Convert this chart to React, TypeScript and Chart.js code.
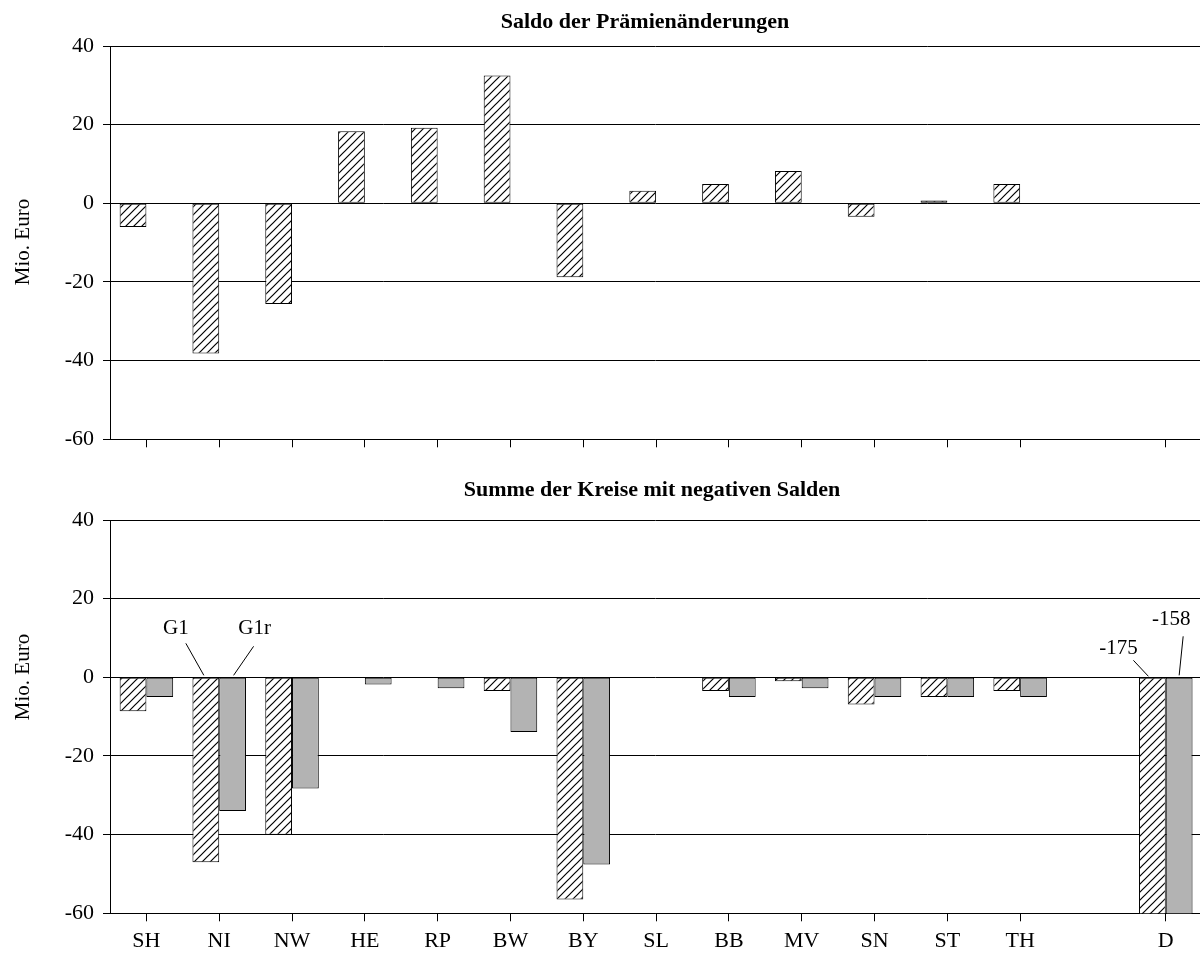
import React, { useEffect, useRef } from 'react';
import { Chart, registerables } from 'chart.js';

Chart.register(...registerables);

// ---------- data ----------
const categories = ['SH', 'NI', 'NW', 'HE', 'RP', 'BW', 'BY', 'SL', 'BB', 'MV', 'SN', 'ST', 'TH', '', 'D'];
const yTickValues = [40, 20, 0, -20, -40, -60];

const topTitle = 'Saldo der Prämienänderungen';
const bottomTitle = 'Summe der Kreise mit negativen Salden';
const yAxisTitle = 'Mio. Euro';
const seriesNames = ['G1', 'G1r'];

// Saldo der Prämienänderungen (Mio. Euro)
const saldoG1: (number | null)[] = [-6, -38.2, -25.6, 18.3, 19.2, 32.5, -18.8, 3.2, 4.9, 8.2, -3.4, 0.7, 4.9, null, null];
// Summe der Kreise mit negativen Salden (Mio. Euro)
const negG1: (number | null)[] = [-8.6, -47, -40, null, null, -3.5, -56.5, null, -3.5, -1, -6.9, -5, -3.5, null, -175];
const negG1r: (number | null)[] = [-5, -34, -28.3, -1.8, -2.8, -13.9, -47.6, null, -5, -2.8, -5, -5, -5, null, -158];

// ---------- helpers ----------
const FONT_FAMILY = '"Liberation Serif", "Times New Roman", Times, serif';
const GRAY = '#b3b3b3';

function makeHatch(ctx: CanvasRenderingContext2D): CanvasPattern {
  const t = document.createElement('canvas');
  t.width = 8;
  t.height = 8;
  const g = t.getContext('2d')!;
  g.fillStyle = '#ffffff';
  g.fillRect(0, 0, 8, 8);
  g.strokeStyle = '#000000';
  g.lineWidth = 1.2;
  g.beginPath();
  g.moveTo(0, 8);
  g.lineTo(8, 0);
  g.moveTo(-4, 4);
  g.lineTo(4, -4);
  g.moveTo(4, 12);
  g.lineTo(12, 4);
  g.stroke();
  return ctx.createPattern(t, 'repeat')!;
}

const toPoints = (arr: (number | null)[]) => arr.map((v, i) => ({ x: i, y: v }));

function textPlugin(title: string, titleX: number, titleY: number, axisTitleY: number) {
  return {
    id: 'customTexts',
    afterDraw(chart: any) {
      const ctx = chart.ctx as CanvasRenderingContext2D;
      ctx.save();
      ctx.fillStyle = '#000';
      ctx.textAlign = 'center';
      ctx.textBaseline = 'middle';
      ctx.font = `bold 22px ${FONT_FAMILY}`;
      ctx.fillText(title, titleX, titleY);
      ctx.font = `21px ${FONT_FAMILY}`;
      ctx.translate(23, axisTitleY);
      ctx.rotate(-Math.PI / 2);
      ctx.fillText(yAxisTitle, 0, 0);
      ctx.restore();
    },
  };
}

const annotationPlugin = {
  id: 'barAnnotations',
  afterDraw(chart: any) {
    const ctx = chart.ctx as CanvasRenderingContext2D;
    const m0 = chart.getDatasetMeta(0).data;
    const m1 = chart.getDatasetMeta(1).data;
    const zeroY = chart.scales.y.getPixelForValue(0);
    const items = [
      { el: m0[1], text: seriesNames[0], tx: -30, ty: -49, x1: -20, y1: -34, x2: -2, y2: -2 },
      { el: m1[1], text: seriesNames[1], tx: 22, ty: -49, x1: 21, y1: -31, x2: 1, y2: -2 },
      { el: m0[14], text: String(negG1[14]), tx: -34, ty: -29, x1: -19, y1: -17, x2: -4, y2: -1 },
      { el: m1[14], text: String(negG1r[14]), tx: -8, ty: -58, x1: 4, y1: -41, x2: 0, y2: -2 },
    ];
    ctx.save();
    ctx.fillStyle = '#000';
    ctx.strokeStyle = '#000';
    ctx.lineWidth = 1;
    ctx.font = `21px ${FONT_FAMILY}`;
    ctx.textAlign = 'center';
    ctx.textBaseline = 'middle';
    for (const it of items) {
      if (!it.el) continue;
      const bx = it.el.x;
      ctx.beginPath();
      ctx.moveTo(bx + it.x1, zeroY + it.y1);
      ctx.lineTo(bx + it.x2, zeroY + it.y2);
      ctx.stroke();
      ctx.fillText(it.text, bx + it.tx, zeroY + it.ty);
    }
    ctx.restore();
  },
};

function buildOptions(showLabels: boolean, padTop: number, xAxisHeight: number): any {
  const font = { family: FONT_FAMILY, size: 22 };
  return {
    responsive: false,
    animation: false,
    layout: { padding: { top: padTop, left: 0, right: 0, bottom: 0 } },
    plugins: { legend: { display: false }, tooltip: { enabled: false }, title: { display: false } },
    datasets: {
      bar: {
        categoryPercentage: 0.735,
        barPercentage: 1,
        borderWidth: 1,
        borderColor: '#000',
        borderSkipped: false,
      },
    },
    scales: {
      x: {
        type: 'linear',
        min: -0.5,
        max: 14.47,
        bounds: 'data',
        offset: false,
        afterBuildTicks: (s: any) => {
          s.ticks = categories
            .map((c, i) => ({ value: i, label: c }))
            .filter((t) => t.label !== '')
            .map((t) => ({ value: t.value }));
        },
        afterFit: (s: any) => {
          s.height = xAxisHeight;
          s.paddingLeft = 0;
          s.paddingRight = 0;
        },
        grid: { offset: false, drawOnChartArea: false, drawTicks: true, tickLength: 8, color: '#000', lineWidth: 1 },
        border: { display: true, color: '#000', width: 1 },
        ticks: {
          display: showLabels,
          autoSkip: false,
          maxRotation: 0,
          padding: 7,
          color: '#000',
          font,
          callback: (v: number) => categories[v] ?? '',
        },
      },
      y: {
        min: -60,
        max: 40,
        afterBuildTicks: (s: any) => {
          s.ticks = yTickValues.map((v) => ({ value: v }));
        },
        afterFit: (s: any) => {
          s.width = 110;
          s.paddingTop = 0;
          s.paddingBottom = 0;
        },
        grid: { color: '#000', lineWidth: 1, drawTicks: true, tickLength: 7 },
        border: { display: true, color: '#000', width: 1 },
        ticks: {
          padding: 9,
          color: '#000',
          font,
          callback: (v: number) => String(v),
        },
      },
    },
  };
}

function TopChart() {
  const ref = useRef<HTMLCanvasElement>(null);
  useEffect(() => {
    const canvas = ref.current!;
    const ctx = canvas.getContext('2d')!;
    const hatch = makeHatch(ctx);
    const chart = new Chart(ctx, {
      type: 'bar',
      data: {
        datasets: [
          { label: seriesNames[0], data: toPoints(saldoG1), backgroundColor: hatch },
          { label: seriesNames[1], data: toPoints(categories.map(() => null)), backgroundColor: GRAY },
        ],
      },
      options: buildOptions(false, 46, 40.7),
      plugins: [textPlugin(topTitle, 645, 22, 242)],
    } as any);
    return () => chart.destroy();
  }, []);
  return <canvas ref={ref} width={1200} height={480} style={{ display: 'block' }} />;
}

function BottomChart() {
  const ref = useRef<HTMLCanvasElement>(null);
  useEffect(() => {
    const canvas = ref.current!;
    const ctx = canvas.getContext('2d')!;
    const hatch = makeHatch(ctx);
    const chart = new Chart(ctx, {
      type: 'bar',
      data: {
        datasets: [
          { label: seriesNames[0], data: toPoints(negG1), backgroundColor: hatch },
          { label: seriesNames[1], data: toPoints(negG1r), backgroundColor: GRAY },
        ],
      },
      options: buildOptions(true, 40, 48.7),
      plugins: [textPlugin(bottomTitle, 652, 10, 197), annotationPlugin],
    } as any);
    return () => chart.destroy();
  }, []);
  return <canvas ref={ref} width={1200} height={482} style={{ display: 'block' }} />;
}

export default function App() {
  return (
    <div style={{ position: 'absolute', left: 0, top: 0, width: 1200, height: 962, background: '#fff', overflow: 'hidden' }}>
      <TopChart />
      <BottomChart />
    </div>
  );
}
